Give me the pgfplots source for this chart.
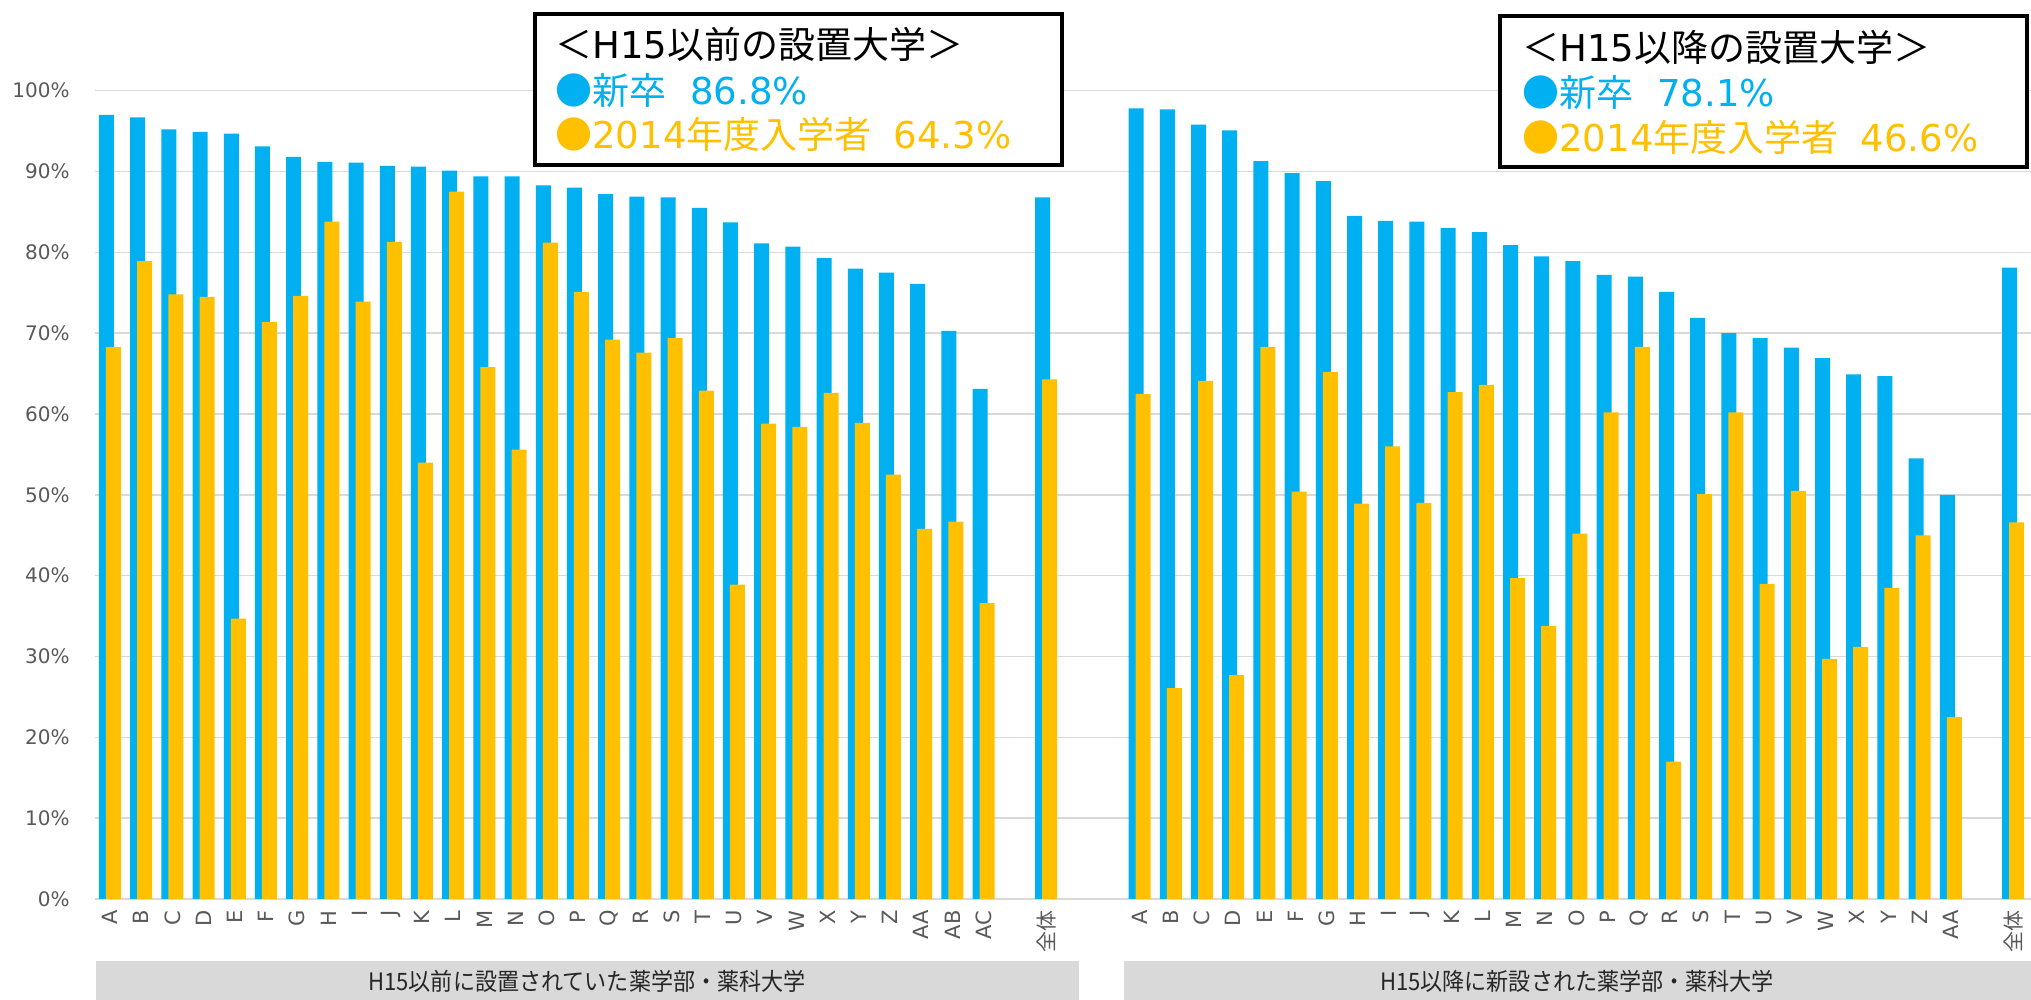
\documentclass[border=0pt]{standalone}
\usepackage{fontspec}
\setmainfont{Noto Sans CJK JP}
\newfontfamily\lat{DejaVu Sans}
\newfontfamily\bandfont[FakeStretch=0.92]{Noto Sans CJK JP}
\usepackage{pgfplots}
\usepackage{pgfplotstable}
\pgfplotsset{compat=1.18}
\definecolor{cblue}{HTML}{00B0F0}
\definecolor{cyel}{HTML}{FFC000}
\definecolor{gridc}{HTML}{D9D9D9}
\definecolor{tickc}{HTML}{595959}
\definecolor{bandc}{HTML}{D9D9D9}
\definecolor{bandtext}{HTML}{262626}

\pgfplotstableread{
x blue yel
0 97.0 68.3
1 96.7 78.9
2 95.2 74.8
3 94.9 74.5
4 94.7 34.7
5 93.1 71.4
6 91.8 74.6
7 91.2 83.8
8 91.1 73.9
9 90.7 81.3
10 90.6 54.0
11 90.1 87.5
12 89.4 65.8
13 89.4 55.6
14 88.3 81.2
15 88.0 75.1
16 87.2 69.2
17 86.9 67.6
18 86.8 69.4
19 85.5 62.9
20 83.7 38.9
21 81.1 58.8
22 80.7 58.4
23 79.3 62.6
24 78.0 58.9
25 77.5 52.5
26 76.1 45.8
27 70.3 46.7
28 63.1 36.6
30 86.8 64.3
}\leftdata

\pgfplotstableread{
x blue yel
33 97.8 62.5
34 97.7 26.1
35 95.8 64.1
36 95.1 27.7
37 91.3 68.3
38 89.8 50.4
39 88.8 65.2
40 84.5 48.9
41 83.9 56.0
42 83.8 49.0
43 83.0 62.7
44 82.5 63.6
45 80.9 39.7
46 79.5 33.8
47 78.9 45.2
48 77.2 60.2
49 77.0 68.3
50 75.1 17.0
51 71.9 50.1
52 70.0 60.2
53 69.4 39.0
54 68.2 50.5
55 66.9 29.7
56 64.9 31.2
57 64.7 38.5
58 54.5 45.0
59 50.0 22.5
61 78.1 46.6
}\rightdata

\begin{document}
\begin{tikzpicture}[x=1pt,y=1pt]
\useasboundingbox (0,0) rectangle (1015.5,500);
% category bands
\fill[bandc] (48,0) rectangle (539.5,19.5);
\fill[bandc] (562,0) rectangle (1015.5,19.5);
\node[text=bandtext, font=\bandfont\fontsize{12}{14}\selectfont, anchor=center] at (293.5,9.5) {H15以前に設置されていた薬学部・薬科大学};
\node[text=bandtext, font=\bandfont\fontsize{12}{14}\selectfont, anchor=center] at (788.5,9.5) {H15以降に新設された薬学部・薬科大学};

\begin{axis}[
  at={(47.5pt,50.5pt)}, anchor=south west,
  scale only axis, width=968pt, height=404.15pt,
  xmin=-0.48, xmax=61.57, ymin=0, ymax=100,
  axis line style={draw=none},
  ymajorgrids, grid style={gridc, line width=0.8pt},
  major tick length=0pt,
  xtick={0,1,2,3,4,5,6,7,8,9,10,11,12,13,14,15,16,17,18,19,20,21,22,23,24,25,26,27,28,30,33,34,35,36,37,38,39,40,41,42,43,44,45,46,47,48,49,50,51,52,53,54,55,56,57,58,59,61},
  xticklabels={A,B,C,D,E,F,G,H,I,J,K,L,M,N,O,P,Q,R,S,T,U,V,W,X,Y,Z,AA,AB,AC,{\normalfont 全体},A,B,C,D,E,F,G,H,I,J,K,L,M,N,O,P,Q,R,S,T,U,V,W,X,Y,Z,AA,{\normalfont 全体}},
  xticklabel style={rotate=90, anchor=east, inner sep=0pt, text=tickc, font=\lat\fontsize{10.5}{12}\selectfont},
  xticklabel shift=5.5pt,
  ytick={0,10,20,30,40,50,60,70,80,90,100},
  yticklabels={0\%,10\%,20\%,30\%,40\%,50\%,60\%,70\%,80\%,90\%,100\%},
  yticklabel style={anchor=east, inner sep=0pt, text=tickc, font=\lat\fontsize{10}{12}\selectfont},
  yticklabel shift=12.5pt,
  clip=false,
]
\addplot[ybar, bar width=7.5pt, bar shift=-1.75pt, fill=cblue, draw=none] table[x=x, y=blue] {\leftdata};
\addplot[ybar, bar width=7.5pt, bar shift=1.75pt, fill=cyel, draw=none] table[x=x, y=yel] {\leftdata};
\addplot[ybar, bar width=7.5pt, bar shift=-1.75pt, fill=cblue, draw=none] table[x=x, y=blue] {\rightdata};
\addplot[ybar, bar width=7.5pt, bar shift=1.75pt, fill=cyel, draw=none] table[x=x, y=yel] {\rightdata};
\end{axis}

% annotation boxes
\draw[line width=1.75pt, fill=white] (267.4,417.4) rectangle (531.1,493.1);
\node[anchor=base west, inner sep=0pt, font=\fontsize{18.5}{20}\selectfont] at (277.5,470.5) {＜{\lat H15}以前の設置大学＞};
\node[anchor=base west, inner sep=0pt, text=cblue, font=\fontsize{18.5}{20}\selectfont] at (277.5,447.5) {●新卒\hspace{0.65em}{\lat 86.8\%}};
\node[anchor=base west, inner sep=0pt, text=cyel, font=\fontsize{18.5}{20}\selectfont] at (277.5,425.5) {●{\lat 2014}年度入学者\hspace{0.6em}{\lat 64.3\%}};

\draw[line width=1.75pt, fill=white] (749.9,416.4) rectangle (1013.6,492.1);
\node[anchor=base west, inner sep=0pt, font=\fontsize{18.5}{20}\selectfont] at (761,469) {＜{\lat H15}以降の設置大学＞};
\node[anchor=base west, inner sep=0pt, text=cblue, font=\fontsize{18.5}{20}\selectfont] at (761,446.5) {●新卒\hspace{0.65em}{\lat 78.1\%}};
\node[anchor=base west, inner sep=0pt, text=cyel, font=\fontsize{18.5}{20}\selectfont] at (761,424) {●{\lat 2014}年度入学者\hspace{0.6em}{\lat 46.6\%}};
\end{tikzpicture}
\end{document}
